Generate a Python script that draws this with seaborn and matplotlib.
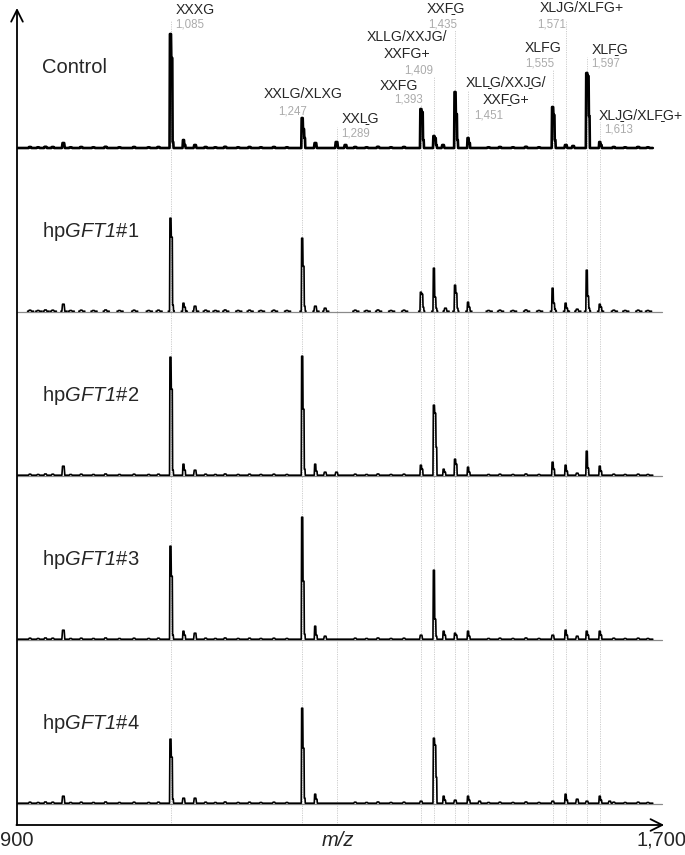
import numpy as np
import pandas as pd
import matplotlib
matplotlib.use("Agg")
import matplotlib.pyplot as plt
import seaborn as sns

# ---- data ----
panel_names = ["Control", "hp$GFT1$#1", "hp$GFT1$#2", "hp$GFT1$#3", "hp$GFT1$#4"]

label_mz = [1085, 1247, 1289, 1393, 1409, 1435, 1451, 1555, 1571, 1597, 1613]
label_num = ["1,085", "1,247", "1,289", "1,393", "1,409", "1,435", "1,451",
             "1,555", "1,571", "1,597", "1,613"]
M = "\u0331"  # bar below previous letter
label_name = ["XXXG", "XXLG/XLXG", "XXL" + M + "G", "XXFG", "XLLG/XXJG/\nXXFG+",
              "XXF" + M + "G", "XLL" + M + "G/XXJ" + M + "G/\nXXF" + M + "G+",
              "XLFG", "XLJG/XLFG+", "XLF" + M + "G", "XLJ" + M + "G/XLF" + M + "G+"]

# peaks: (m/z, height, first isotope, second isotope)
peaks_control = [(953, 5, 0, 0), (1085, 114, 90, 6), (1101, 8, 3, 0), (1115, 3, 0, 0),
                 (1247, 30, 19, 10), (1263, 5, 0, 0), (1289, 6, 0, 0), (1300, 3, 0, 0),
                 (1393, 39, 36, 8), (1409, 12, 10, 3), (1420, 3, 0, 0), (1435, 56, 34, 8),
                 (1451, 10, 5, 0), (1555, 41, 33, 8), (1571, 3, 0, 0), (1580, 2, 0, 0),
                 (1597, 75, 72, 32), (1613, 6, 3, 0)]
peaks_gft1_1 = [(953, 7, 0, 0), (1085, 93, 74, 6), (1101, 8, 4, 0), (1115, 5, 0, 0),
                (1247, 73, 45, 5), (1263, 5, 0, 0), (1275, 3, 0, 0), (1393, 19, 17, 4),
                (1409, 43, 14, 3), (1423, 3, 0, 0), (1435, 26, 18, 3), (1451, 9, 4, 0),
                (1555, 23, 8, 2), (1571, 8, 3, 0), (1585, 2, 0, 0), (1597, 41, 15, 3),
                (1613, 7, 4, 0)]
peaks_gft1_2 = [(953, 9, 0, 0), (1085, 118, 86, 5), (1101, 11, 5, 0), (1115, 5, 0, 0),
                (1247, 119, 66, 6), (1263, 11, 4, 0), (1275, 3, 0, 0), (1289, 3, 0, 0),
                (1393, 10, 6, 0), (1409, 70, 62, 28), (1421, 6, 3, 0), (1435, 16, 11, 0),
                (1451, 8, 3, 0), (1555, 13, 6, 0), (1571, 10, 4, 0), (1585, 2, 0, 0),
                (1597, 24, 7, 0), (1613, 9, 4, 0)]
peaks_gft1_3 = [(953, 9, 0, 0), (1085, 93, 63, 4), (1101, 8, 4, 0), (1115, 6, 0, 0),
                (1247, 122, 58, 5), (1263, 13, 4, 0), (1275, 3, 0, 0), (1393, 4, 0, 0),
                (1409, 69, 20, 3), (1421, 8, 4, 0), (1435, 6, 4, 0), (1451, 8, 3, 0),
                (1555, 4, 0, 0), (1571, 9, 4, 0), (1585, 3, 0, 0), (1597, 8, 4, 0),
                (1613, 8, 4, 0)]
peaks_gft1_4 = [(953, 7, 0, 0), (1085, 64, 46, 4), (1101, 5, 0, 0), (1115, 5, 0, 0),
                (1247, 95, 55, 5), (1263, 9, 4, 0), (1393, 2, 0, 0), (1409, 65, 58, 26),
                (1421, 7, 3, 0), (1435, 3, 0, 0), (1451, 7, 3, 0), (1465, 2, 0, 0),
                (1555, 2, 0, 0), (1571, 9, 3, 0), (1585, 4, 0, 0), (1597, 2, 0, 0),
                (1613, 7, 3, 0), (1625, 2, 0, 0)]
noise_mz = [912, 922, 931, 940, 962, 975, 990, 1005, 1022, 1040, 1058, 1070, 1128, 1140,
            1152, 1168, 1182, 1196, 1212, 1228, 1312, 1326, 1340, 1356, 1372, 1476, 1490,
            1506, 1522, 1538, 1630, 1644, 1660, 1672]
noise_h = [1, 0.7, 1.2, 1, 0.7, 1, 0.7, 1.2, 0.7, 1, 0.7, 1, 1, 0.7, 1.2, 0.7, 1, 0.7,
           1, 0.7, 1, 0.7, 1.2, 0.7, 1, 0.7, 1, 0.7, 1.2, 0.7, 1, 0.7, 1, 0.7]

panel_peaks = [peaks_control, peaks_gft1_1, peaks_gft1_2, peaks_gft1_3, peaks_gft1_4]
sparse = [False, True, False, False, False]


def peak_shape(m, h, i1, i2):
    if i1 == 0:
        return [(m - 1.8, 0), (m - 1.0, h), (m + 1.0, h), (m + 1.8, 0)]
    return [(m - 1.4, 0), (m - 0.9, h), (m + 0.4, h), (m + 0.8, i1), (m + 2.0, i1),
            (m + 2.4, i2), (m + 3.2, i2), (m + 3.6, 0)]


def build_trace(peaks, sparse_trace):
    allp = sorted(peaks + [(m, h, 0, 0) for m, h in zip(noise_mz, noise_h)])
    rows = []
    if sparse_trace:
        for k, p in enumerate(allp):
            pts = [(p[0] - 3, 0)] + peak_shape(*p) + [(p[0] + 4.5, 0)]
            rows += [(x, y, k) for x, y in pts]
    else:
        pts = [(897, 0)]
        for p in allp:
            pts += peak_shape(*p)
        pts.append((1678, 0))
        rows = [(x, y, 0) for x, y in pts]
    return pd.DataFrame(rows, columns=["mz", "y", "seg"])


# ---- figure ----
sns.set_theme(style="white")
plt.rcParams["font.family"] = ["Liberation Sans", "DejaVu Sans"]
plt.rcParams["mathtext.fontset"] = "custom"
plt.rcParams["mathtext.rm"] = "Liberation Sans:italic"
plt.rcParams["mathtext.it"] = "Liberation Sans:italic"

W, H = 685, 855
fig = plt.figure(figsize=(W / 100, H / 100), dpi=100)
ax = fig.add_axes([17 / W, 30 / H, 653.7 / W, 817 / H])
ax.set_xlim(896, 1700)
ax.set_ylim(0, 817)
ax.axis("off")

offsets = [677, 513, 349, 185, 21]

# dotted guide lines
line_tops = [20, 117, 127, 104, 77, 30, 90, 70, 20, 57, 122]
for mz, top in zip(label_mz, line_tops):
    ax.plot([mz, mz], [0, 825 - top], color="#cdcdcd", lw=0.7,
            ls=(0, (1.2, 1.2)), zorder=1)

for i, (peaks, off) in enumerate(zip(panel_peaks, offsets)):
    if i > 0:
        sns.lineplot(x=[896, 1689], y=[off, off], color="#8a8a8a", lw=0.9, ax=ax,
                     zorder=2)
    df = build_trace(peaks, sparse[i])
    df["y"] = df["y"] + off + (0 if i == 0 else 0.8)
    sns.lineplot(data=df, x="mz", y="y", units="seg", estimator=None, sort=False,
                 color="black", lw=1.9 if i == 0 else 1.2, ax=ax, zorder=3)
    ax.text(926.5, off + 81, panel_names[i], fontsize=14.5, ha="left", va="center")

# axes arrows
arrow = dict(arrowstyle="->,head_length=0.7,head_width=0.35", color="black", lw=1.3,
             shrinkA=0, shrinkB=0)
ax.annotate("", xy=(896, 817), xytext=(896, 0), arrowprops=arrow, annotation_clip=False)
ax.annotate("", xy=(1692, 0), xytext=(895.3, 0), arrowprops=arrow, annotation_clip=False)

fig.text(17 / W, 1 - 840 / H, "900", fontsize=14.5, ha="center", va="center")
fig.text(661 / W, 1 - 840 / H, "1,700", fontsize=14.5, ha="center", va="center")
fig.text(338 / W, 1 - 840 / H, "m/z", fontsize=14.5, ha="center", va="center",
         style="italic")

# peak annotations (pixel centres)
name_pos = [(195.5, 10), (303, 94.3), (360.3, 118.3), (398.5, 86), (407, 45.5),
            (446, 8.3), (506, 90.5), (543, 48.3), (581.5, 8.3), (610, 49.3),
            (640.5, 115)]
num_pos = [(189.5, 24.3), (292.5, 111), (355.3, 133.3), (409, 99.3), (419, 70.7),
           (443, 24.3), (489, 116), (539.7, 64), (551.5, 24.3), (606, 64), (619, 130)]
for name, num, (nx, ny), (mx, my) in zip(label_name, label_num, name_pos, num_pos):
    fig.text(nx / W, 1 - ny / H, name, fontsize=10.2, ha="center", va="center",
             linespacing=1.25)
    fig.text(mx / W, 1 - my / H, num, fontsize=8.3, ha="center", va="center",
             color="#ababab")

fig.savefig("out.png", dpi=100)
